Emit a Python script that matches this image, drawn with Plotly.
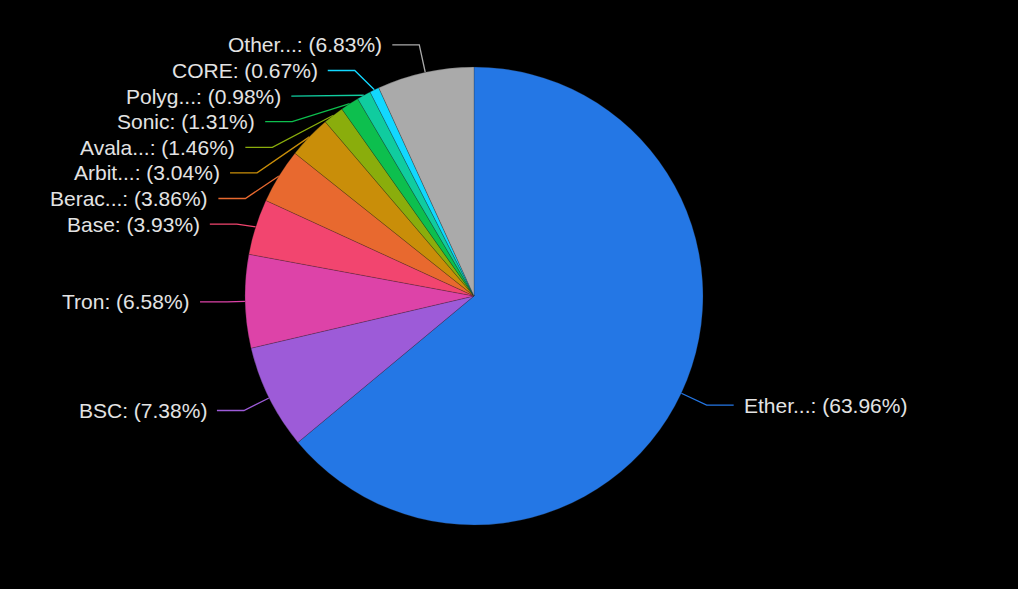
import math
import plotly.graph_objects as go

# ---- data ----
names = ["Ether...", "BSC", "Tron", "Base", "Berac...", "Arbit...", "Avala...",
         "Sonic", "Polyg...", "CORE", "Other..."]
shares = [63.96, 7.38, 6.58, 3.93, 3.86, 3.04, 1.46, 1.31, 0.98, 0.67, 6.83]
colors = ["#2477e5", "#9d5bd8", "#dd43a8", "#f2456f", "#e8692f", "#c98e09",
          "#8aad0c", "#0dbf4e", "#10cc9f", "#12d8ff", "#aaaaaa"]

# ---- geometry (pixels) ----
W, H = 1018, 589
CX, CY, R = 474, 296, 229
L1, A_ELL, L2, GAP, STEP = 28, 247, 27, 9, 25.6

fig = go.Figure()
fig.add_trace(go.Pie(
    labels=names, values=shares, sort=False, direction="clockwise", rotation=0,
    marker=dict(colors=colors, line=dict(color="rgba(40,40,40,0.5)", width=0.5)),
    textinfo="none", hoverinfo="label+percent", showlegend=False,
    domain=dict(x=[(CX - R) / W, (CX + R) / W], y=[1 - (CY + R) / H, 1 - (CY - R) / H]),
))

# ---- label layout computed from the slice angles ----
total = sum(shares)
items = []
cum = 0.0
for n, v, c in zip(names, shares, colors):
    mid = (cum + v / 2) / total * 2 * math.pi
    cum += v
    s, co = math.sin(mid), math.cos(mid)
    items.append(dict(name=n, val=v, color=c,
                      p0=(CX + R * s, CY - R * co),
                      nx=CX + (R + L1) * s, ny=CY - (R + L1) * co,
                      side=1 if s >= 0 else -1))

for side in (1, -1):
    grp = sorted([it for it in items if it["side"] == side], key=lambda d: d["ny"])
    shifted = False
    prev = None
    for it in grp:
        y = it["ny"]
        if prev is not None and y < prev + STEP:
            y = prev + STEP
            shifted = True
        it["ly"] = y
        it["lx"] = it["nx"]
        prev = y
    if shifted:
        for semi in ([it for it in grp if it["ly"] <= CY], [it for it in grp if it["ly"] > CY]):
            if not semi:
                continue
            far = max(semi, key=lambda d: abs(d["ly"] - CY))
            dxn = abs(far["nx"] - CX)
            dyf = abs(far["ly"] - CY)
            b = dyf / math.sqrt(max(1e-6, 1 - (dxn / A_ELL) ** 2)) if dxn < A_ELL else A_ELL
            for it in semi:
                dy = abs(it["ly"] - CY)
                dx = A_ELL * math.sqrt(max(0.0, 1 - (dy / b) ** 2))
                it["lx"] = CX + side * dx

annotations = []
for it in items:
    x0, y0 = it["p0"]
    x1, y1 = it["lx"], it["ly"]
    x2 = x1 + it["side"] * L2
    fig.add_trace(go.Scatter(
        x=[x0, x1, x2], y=[y0, y1, y1], mode="lines",
        line=dict(color=it["color"], width=1.3), hoverinfo="skip", showlegend=False,
        xaxis="x", yaxis="y"))
    annotations.append(dict(
        x=x2 + it["side"] * GAP, y=y1, xref="x", yref="y",
        text=f"{it['name']}: ({it['val']:.2f}%)", showarrow=False,
        xanchor="left" if it["side"] > 0 else "right", yanchor="middle",
        borderpad=0,
        font=dict(family="Liberation Sans, Arial, sans-serif", size=21, color="#e3e3e3")))

fig.update_layout(
    width=W, height=H, margin=dict(l=0, r=0, t=0, b=0),
    paper_bgcolor="#000000", plot_bgcolor="rgba(0,0,0,0)",
    xaxis=dict(range=[0, W], visible=False, domain=[0, 1], fixedrange=True),
    yaxis=dict(range=[H, 0], visible=False, domain=[0, 1], fixedrange=True),
    annotations=annotations,
)

fig.write_html("out.html", config={"displayModeBar": False},
               post_script="document.body.style.margin='0';document.body.style.background='#000';")
